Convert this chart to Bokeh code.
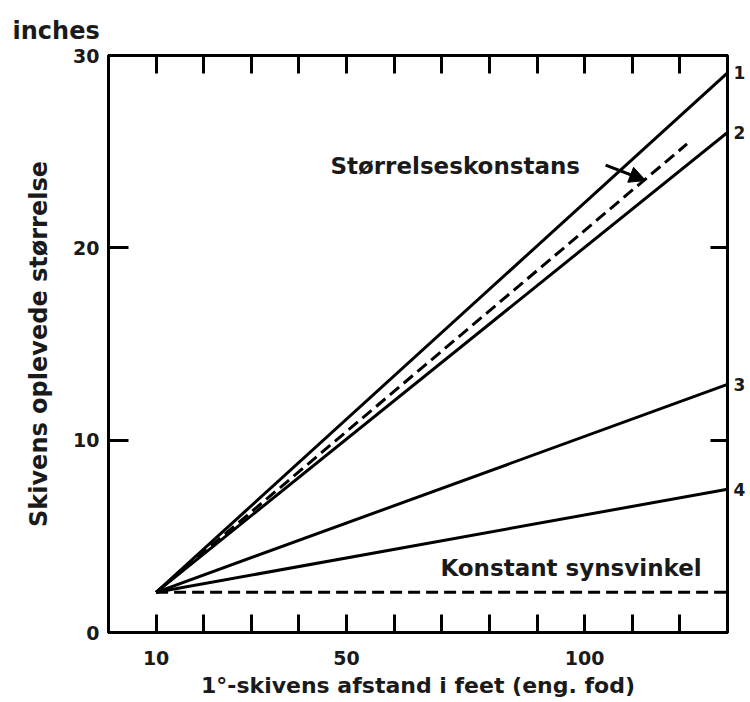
import math
from bokeh.plotting import figure
from bokeh.models import (Range1d, LinearAxis, FixedTicker, Label,
                          Arrow, NormalHead)
from bokeh.embed import file_html
from bokeh.resources import INLINE

# ---------------- data ----------------
distance_ft = [10, 130]
curve1_size = [2.09, 29.1]
curve2_size = [2.09, 26.0]
curve3_size = [2.09, 12.9]
curve4_size = [2.09, 7.45]
constancy_dist = [10, 121.5]
constancy_size = [2.09, 25.4]
visual_angle_size = [2.09, 2.09]
curve_names = ["1", "2", "3", "4"]
curve_end_sizes = [curve1_size[-1], curve2_size[-1], curve3_size[-1], curve4_size[-1]]

x_ticks = [10, 20, 30, 40, 50, 60, 70, 80, 90, 100, 110, 120]
x_labeled = [10, 50, 100]
y_label_ticks = [0, 10, 20, 30]
y_side_ticks = [10, 20]

arrow_start = (104.4, 24.3)
arrow_end = (112.8, 23.5)

FONT = "DejaVu Sans"
INK = "#1a1a1a"

p = figure(width=750, height=702, x_range=Range1d(0, 130), y_range=Range1d(0, 30),
           output_backend="svg", toolbar_location=None,
           x_axis_location=None, y_axis_location=None,
           min_border_left=108, min_border_right=23, min_border_top=55, min_border_bottom=70)
p.grid.grid_line_color = None
p.outline_line_color = "black"
p.outline_line_width = 3
p.background_fill_color = "white"
p.border_fill_color = "white"

p.title.text = "inches"
p.title.align = "left"
p.title.offset = -96
p.title.standoff = 21
p.title.text_font = FONT
p.title.text_font_style = "bold"
p.title.text_font_size = "24px"
p.title.text_color = INK


def style_axis(ax, tick_len):
    ax.axis_line_color = "black"
    ax.axis_line_width = 3
    ax.major_tick_line_color = "black"
    ax.major_tick_line_width = 3
    ax.major_tick_in = tick_len
    ax.major_tick_out = 0
    ax.minor_tick_in = 0
    ax.minor_tick_out = 0
    ax.major_label_text_font = FONT
    ax.major_label_text_font_style = "bold"
    ax.major_label_text_font_size = "19px"
    ax.major_label_text_color = INK
    ax.axis_label_text_font = FONT
    ax.axis_label_text_font_style = "bold"
    ax.axis_label_text_color = INK


bottom = LinearAxis(ticker=FixedTicker(ticks=x_ticks),
                    major_label_overrides={t: (str(t) if t in x_labeled else "") for t in x_ticks},
                    axis_label="1°-skivens afstand i feet (eng. fod)")
style_axis(bottom, 18)
bottom.major_label_standoff = 18
bottom.axis_label_standoff = 5
bottom.axis_label_text_font_size = "22px"
p.add_layout(bottom, "below")

top = LinearAxis(ticker=FixedTicker(ticks=x_ticks),
                 major_label_overrides={t: "" for t in x_ticks})
style_axis(top, 18)
top.major_label_standoff = 0
p.add_layout(top, "above")

left = LinearAxis(ticker=FixedTicker(ticks=y_label_ticks),
                  axis_label="Skivens oplevede størrelse")
style_axis(left, 20)
left.major_label_standoff = 9
left.axis_label_standoff = 17
left.axis_label_text_font_size = "24px"
p.add_layout(left, "left")

right = LinearAxis(ticker=FixedTicker(ticks=y_side_ticks),
                   major_label_overrides={t: "" for t in y_side_ticks})
style_axis(right, 17)
right.major_label_standoff = 0
p.add_layout(right, "right")

names_axis = LinearAxis(ticker=FixedTicker(ticks=curve_end_sizes),
                        major_label_overrides=dict(zip(curve_end_sizes, curve_names)))
style_axis(names_axis, 0)
names_axis.axis_line_color = None
names_axis.major_tick_line_color = None
names_axis.major_label_text_font_size = "17px"
names_axis.major_label_standoff = 6
p.add_layout(names_axis, "right")

# ---------------- curves ----------------
for ys in (curve1_size, curve2_size, curve3_size, curve4_size):
    p.line(distance_ft, ys, line_color="black", line_width=3)
p.line(constancy_dist, constancy_size, line_color="black", line_width=3, line_dash="12 6")
p.line(distance_ft, visual_angle_size, line_color="black", line_width=3, line_dash="12 6")

p.add_layout(Arrow(end=NormalHead(size=16, fill_color="black", line_color="black"),
                   x_start=arrow_start[0], y_start=arrow_start[1],
                   x_end=arrow_end[0], y_end=arrow_end[1],
                   line_color="black", line_width=3))

# ---------------- texts in the plot ----------------
p.add_layout(Label(x=46.6, y=24.23, text="Størrelseskonstans", text_font=FONT,
                   text_font_style="bold", text_font_size="23px", text_color=INK,
                   text_align="left", text_baseline="alphabetic"))
p.add_layout(Label(x=69.7, y=3.33, text="Konstant synsvinkel", text_font=FONT,
                   text_font_style="bold", text_font_size="23px", text_color=INK,
                   text_align="left", text_baseline="alphabetic"))

open("out.html", "w").write(file_html(p, INLINE))
